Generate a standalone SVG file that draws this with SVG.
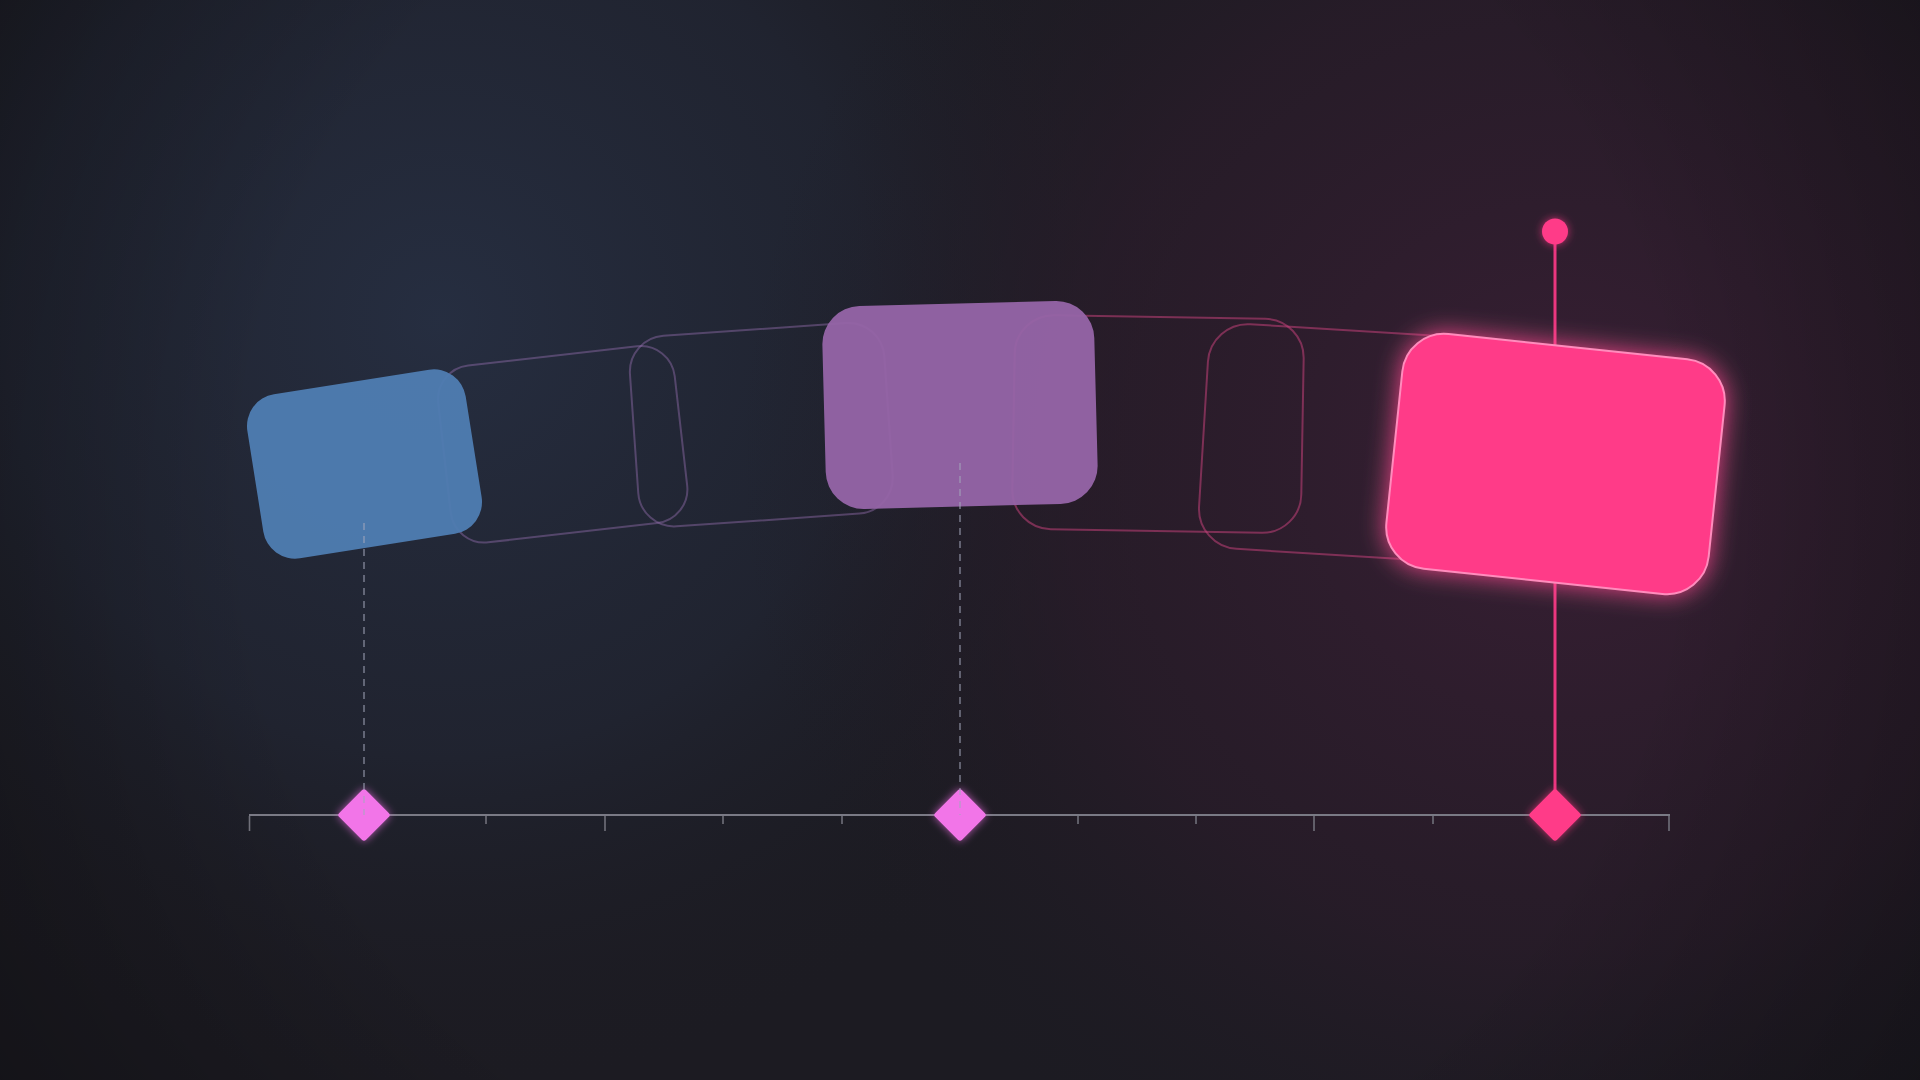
<svg xmlns="http://www.w3.org/2000/svg" width="1920" height="1080" viewBox="0 0 1920 1080">
  <defs>
    <radialGradient id="bgBlue" gradientUnits="userSpaceOnUse" cx="440" cy="320" r="780">
      <stop offset="0" stop-color="#273044" stop-opacity="0.9"/>
      <stop offset="0.55" stop-color="#232939" stop-opacity="0.6"/>
      <stop offset="1" stop-color="#1c1b22" stop-opacity="0"/>
    </radialGradient>
    <radialGradient id="bgPink" gradientUnits="userSpaceOnUse" cx="1560" cy="460" r="820">
      <stop offset="0" stop-color="#3a1f35" stop-opacity="0.95"/>
      <stop offset="0.6" stop-color="#2c1c2b" stop-opacity="0.65"/>
      <stop offset="1" stop-color="#1e1b24" stop-opacity="0"/>
    </radialGradient>
    <radialGradient id="vignette" gradientUnits="userSpaceOnUse" cx="960" cy="500" r="1150">
      <stop offset="0.62" stop-color="#000" stop-opacity="0"/>
      <stop offset="1" stop-color="#000" stop-opacity="0.3"/>
    </radialGradient>
    <filter id="glow" x="-30%" y="-30%" width="160%" height="160%">
      <feGaussianBlur in="SourceGraphic" stdDeviation="12" result="b"/>
      <feComponentTransfer in="b" result="b2"><feFuncA type="linear" slope="0.9"/></feComponentTransfer>
      <feMerge><feMergeNode in="b2"/><feMergeNode in="SourceGraphic"/></feMerge>
    </filter>
    <filter id="softglow" x="-50%" y="-50%" width="200%" height="200%">
      <feGaussianBlur in="SourceGraphic" stdDeviation="4" result="b"/>
      <feComponentTransfer in="b" result="b2"><feFuncA type="linear" slope="0.7"/></feComponentTransfer>
      <feMerge><feMergeNode in="b2"/><feMergeNode in="SourceGraphic"/></feMerge>
    </filter>
    <style>
      .ghostP { fill: none; stroke: #9a72b4; stroke-opacity: 0.42; stroke-width: 2; }
      .ghostR { fill: none; stroke: #d0437f; stroke-opacity: 0.5; stroke-width: 2; }
      .tick { stroke: #70707a; stroke-width: 1.6; }
      .dash { stroke: #a4a8bc; stroke-opacity: 0.5; stroke-width: 2; stroke-dasharray: 7 6; }
    </style>
  </defs>

  <!-- background -->
  <rect width="1920" height="1080" fill="#1c1b22"/>
  <rect width="1920" height="1080" fill="url(#bgBlue)"/>
  <rect width="1920" height="1080" fill="url(#bgPink)"/>
  <rect width="1920" height="1080" fill="url(#vignette)"/>

  <!-- connectors -->
  <g id="connectors">
    <line x1="1555" y1="231" x2="1555" y2="815" stroke="#ff3a88" stroke-opacity="0.9" stroke-width="3"/>
  </g>

  <!-- ghost frames -->
  <g id="ghost-a"><rect class="ghostP" x="-119" y="-89" width="238" height="178" rx="34" transform="translate(562.7 444.3) rotate(-6.5)"/></g>
  <g id="ghost-b"><rect class="ghostP" x="-127.5" y="-95.5" width="255" height="191" rx="36" transform="translate(761.3 424.7) rotate(-4)"/></g>
  <g id="ghost-c"><rect class="ghostR" x="-144.5" y="-107" width="289" height="214" rx="39" transform="translate(1158 424) rotate(1)"/></g>
  <g id="ghost-d"><rect class="ghostR" x="-153.5" y="-112.5" width="307" height="225" rx="40" transform="translate(1356.7 443.5) rotate(3.5)"/></g>

  <!-- key boxes -->
  <g id="box-blue"><rect x="-110.5" y="-83" width="221" height="166" rx="32" fill="#4f7db2" fill-opacity="0.95" transform="translate(364.5 464) rotate(-9)"/></g>
  <g id="box-purple"><rect x="-136" y="-101.5" width="272" height="203" rx="38" fill="#9665a8" fill-opacity="0.95" transform="translate(960 405) rotate(-1.5)"/></g>
  <g id="box-pink" filter="url(#glow)"><rect x="-162" y="-118" width="324" height="236" rx="42" fill="#ff3a88" stroke="#ff8cbd" stroke-width="2" transform="translate(1555.5 464) rotate(6)"/></g>

  <!-- pink handle dot -->
  <g id="dot" filter="url(#softglow)"><circle cx="1555" cy="231.5" r="13" fill="#ff3a88"/></g>

  <!-- timeline -->
  <g id="timeline">
    <line x1="249" y1="815" x2="1670" y2="815" stroke="#7a7a85" stroke-width="2"/>
    <line class="tick" x1="249.5" y1="816" x2="249.5" y2="831"/>
    <line class="tick" x1="486" y1="816" x2="486" y2="824"/>
    <line class="tick" x1="605" y1="816" x2="605" y2="831"/>
    <line class="tick" x1="723" y1="816" x2="723" y2="824"/>
    <line class="tick" x1="842" y1="816" x2="842" y2="824"/>
    <line class="tick" x1="1078" y1="816" x2="1078" y2="824"/>
    <line class="tick" x1="1196" y1="816" x2="1196" y2="824"/>
    <line class="tick" x1="1314" y1="816" x2="1314" y2="831"/>
    <line class="tick" x1="1433" y1="816" x2="1433" y2="824"/>
    <line class="tick" x1="1669" y1="816" x2="1669" y2="831"/>
  </g>

  <!-- keyframe diamonds -->
  <g id="key-1" filter="url(#softglow)"><rect x="-19" y="-19" width="38" height="38" rx="3" fill="#f274e8" transform="translate(364 815) rotate(45)"/></g>
  <g id="key-2" filter="url(#softglow)"><rect x="-19" y="-19" width="38" height="38" rx="3" fill="#f274e8" transform="translate(960 815) rotate(45)"/></g>
  <g id="key-3" filter="url(#softglow)"><rect x="-19" y="-19" width="38" height="38" rx="3" fill="#ff3a88" transform="translate(1555 815) rotate(45)"/></g>

  <!-- dashed drop lines -->
  <g id="drop-lines">
    <line class="dash" x1="364" y1="523" x2="364" y2="815"/>
    <line class="dash" x1="960" y1="463" x2="960" y2="815"/>
  </g>
</svg>
